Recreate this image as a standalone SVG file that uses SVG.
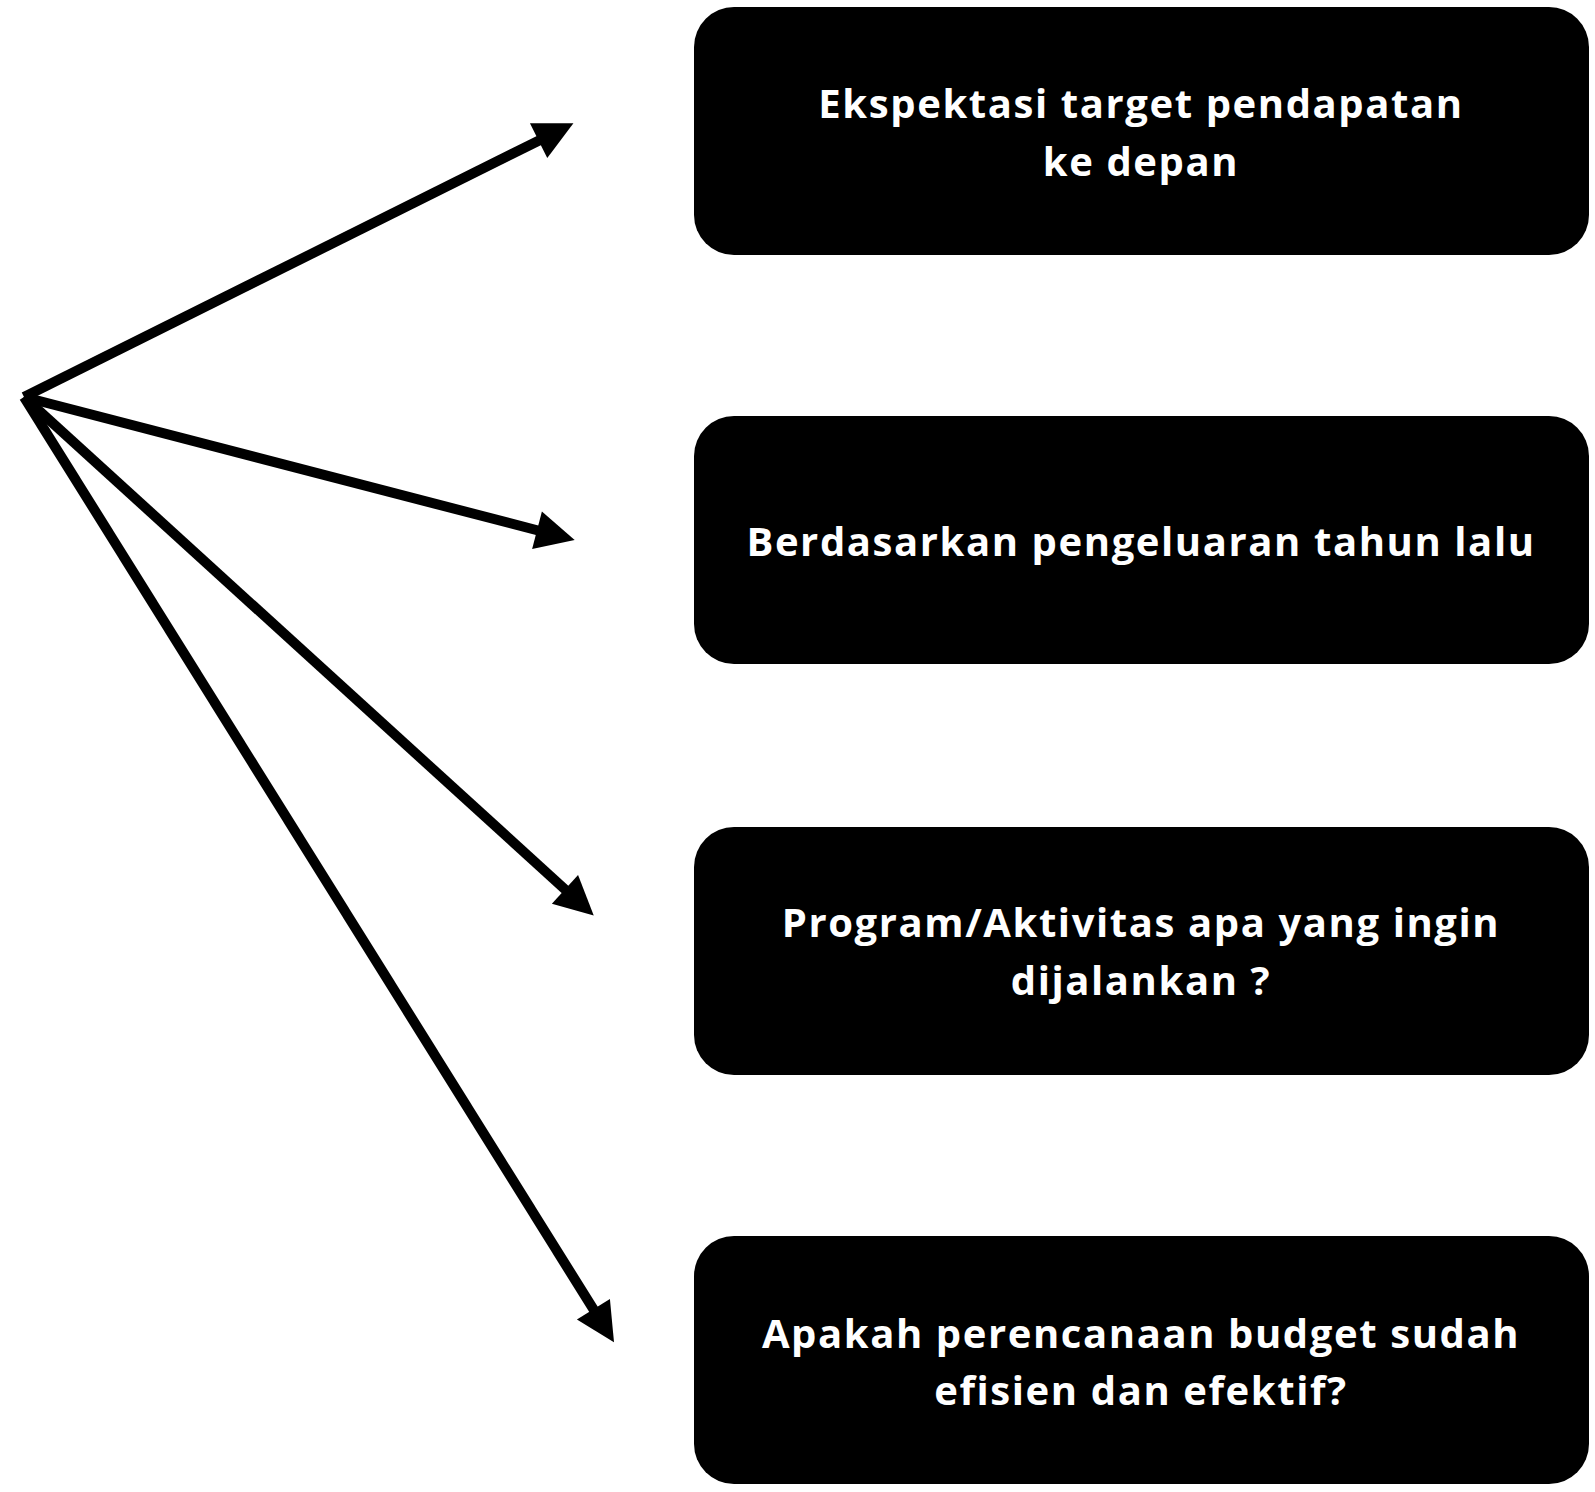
<svg xmlns="http://www.w3.org/2000/svg" width="1595" height="1492" viewBox="0 0 1595 1492">
<style>
.box{fill:#000}
.t{font-family:"Open Sans","Liberation Sans",sans-serif;font-weight:700;font-size:40px;letter-spacing:1.6px;fill:#fff;text-anchor:middle}
.c{stroke:#000;stroke-width:10;fill:none}
</style>
<defs>
<marker id="ah" markerUnits="userSpaceOnUse" markerWidth="40" markerHeight="40" viewBox="0 -18 35 36" refX="0" refY="0" orient="auto" overflow="visible">
<path d="M-1,-17.5 L34,0 L-1,17.5 z" fill="#000"/>
</marker>
</defs>
<rect width="1595" height="1492" fill="#fff"/>
<g id="connectors">
<path class="c" d="M24,397 L539.6,140.2" marker-end="url(#ah)"/>
<path class="c" d="M24,397 L538.1,530.5" marker-end="url(#ah)"/>
<path class="c" d="M24,397 L565.8,890.1" marker-end="url(#ah)"/>
<path class="c" d="M24,397 L594,1310.2" marker-end="url(#ah)"/>
</g>
<g id="n1"><rect class="box" x="694" y="7" width="895" height="248" rx="40"/>
<text class="t" x="1141" y="118">Ekspektasi target pendapatan</text>
<text class="t" x="1141" y="176">ke depan</text></g>
<g id="n2"><rect class="box" x="694" y="416" width="895" height="248" rx="40"/>
<text class="t" x="1141" y="556">Berdasarkan pengeluaran tahun lalu</text></g>
<g id="n3"><rect class="box" x="694" y="827" width="895" height="248" rx="40"/>
<text class="t" x="1141" y="937">Program/Aktivitas apa yang ingin</text>
<text class="t" x="1141" y="995">dijalankan ?</text></g>
<g id="n4"><rect class="box" x="694" y="1236" width="895" height="248" rx="40"/>
<text class="t" x="1141" y="1348">Apakah perencanaan budget sudah</text>
<text class="t" x="1141" y="1405">efisien dan efektif?</text></g>
</svg>
